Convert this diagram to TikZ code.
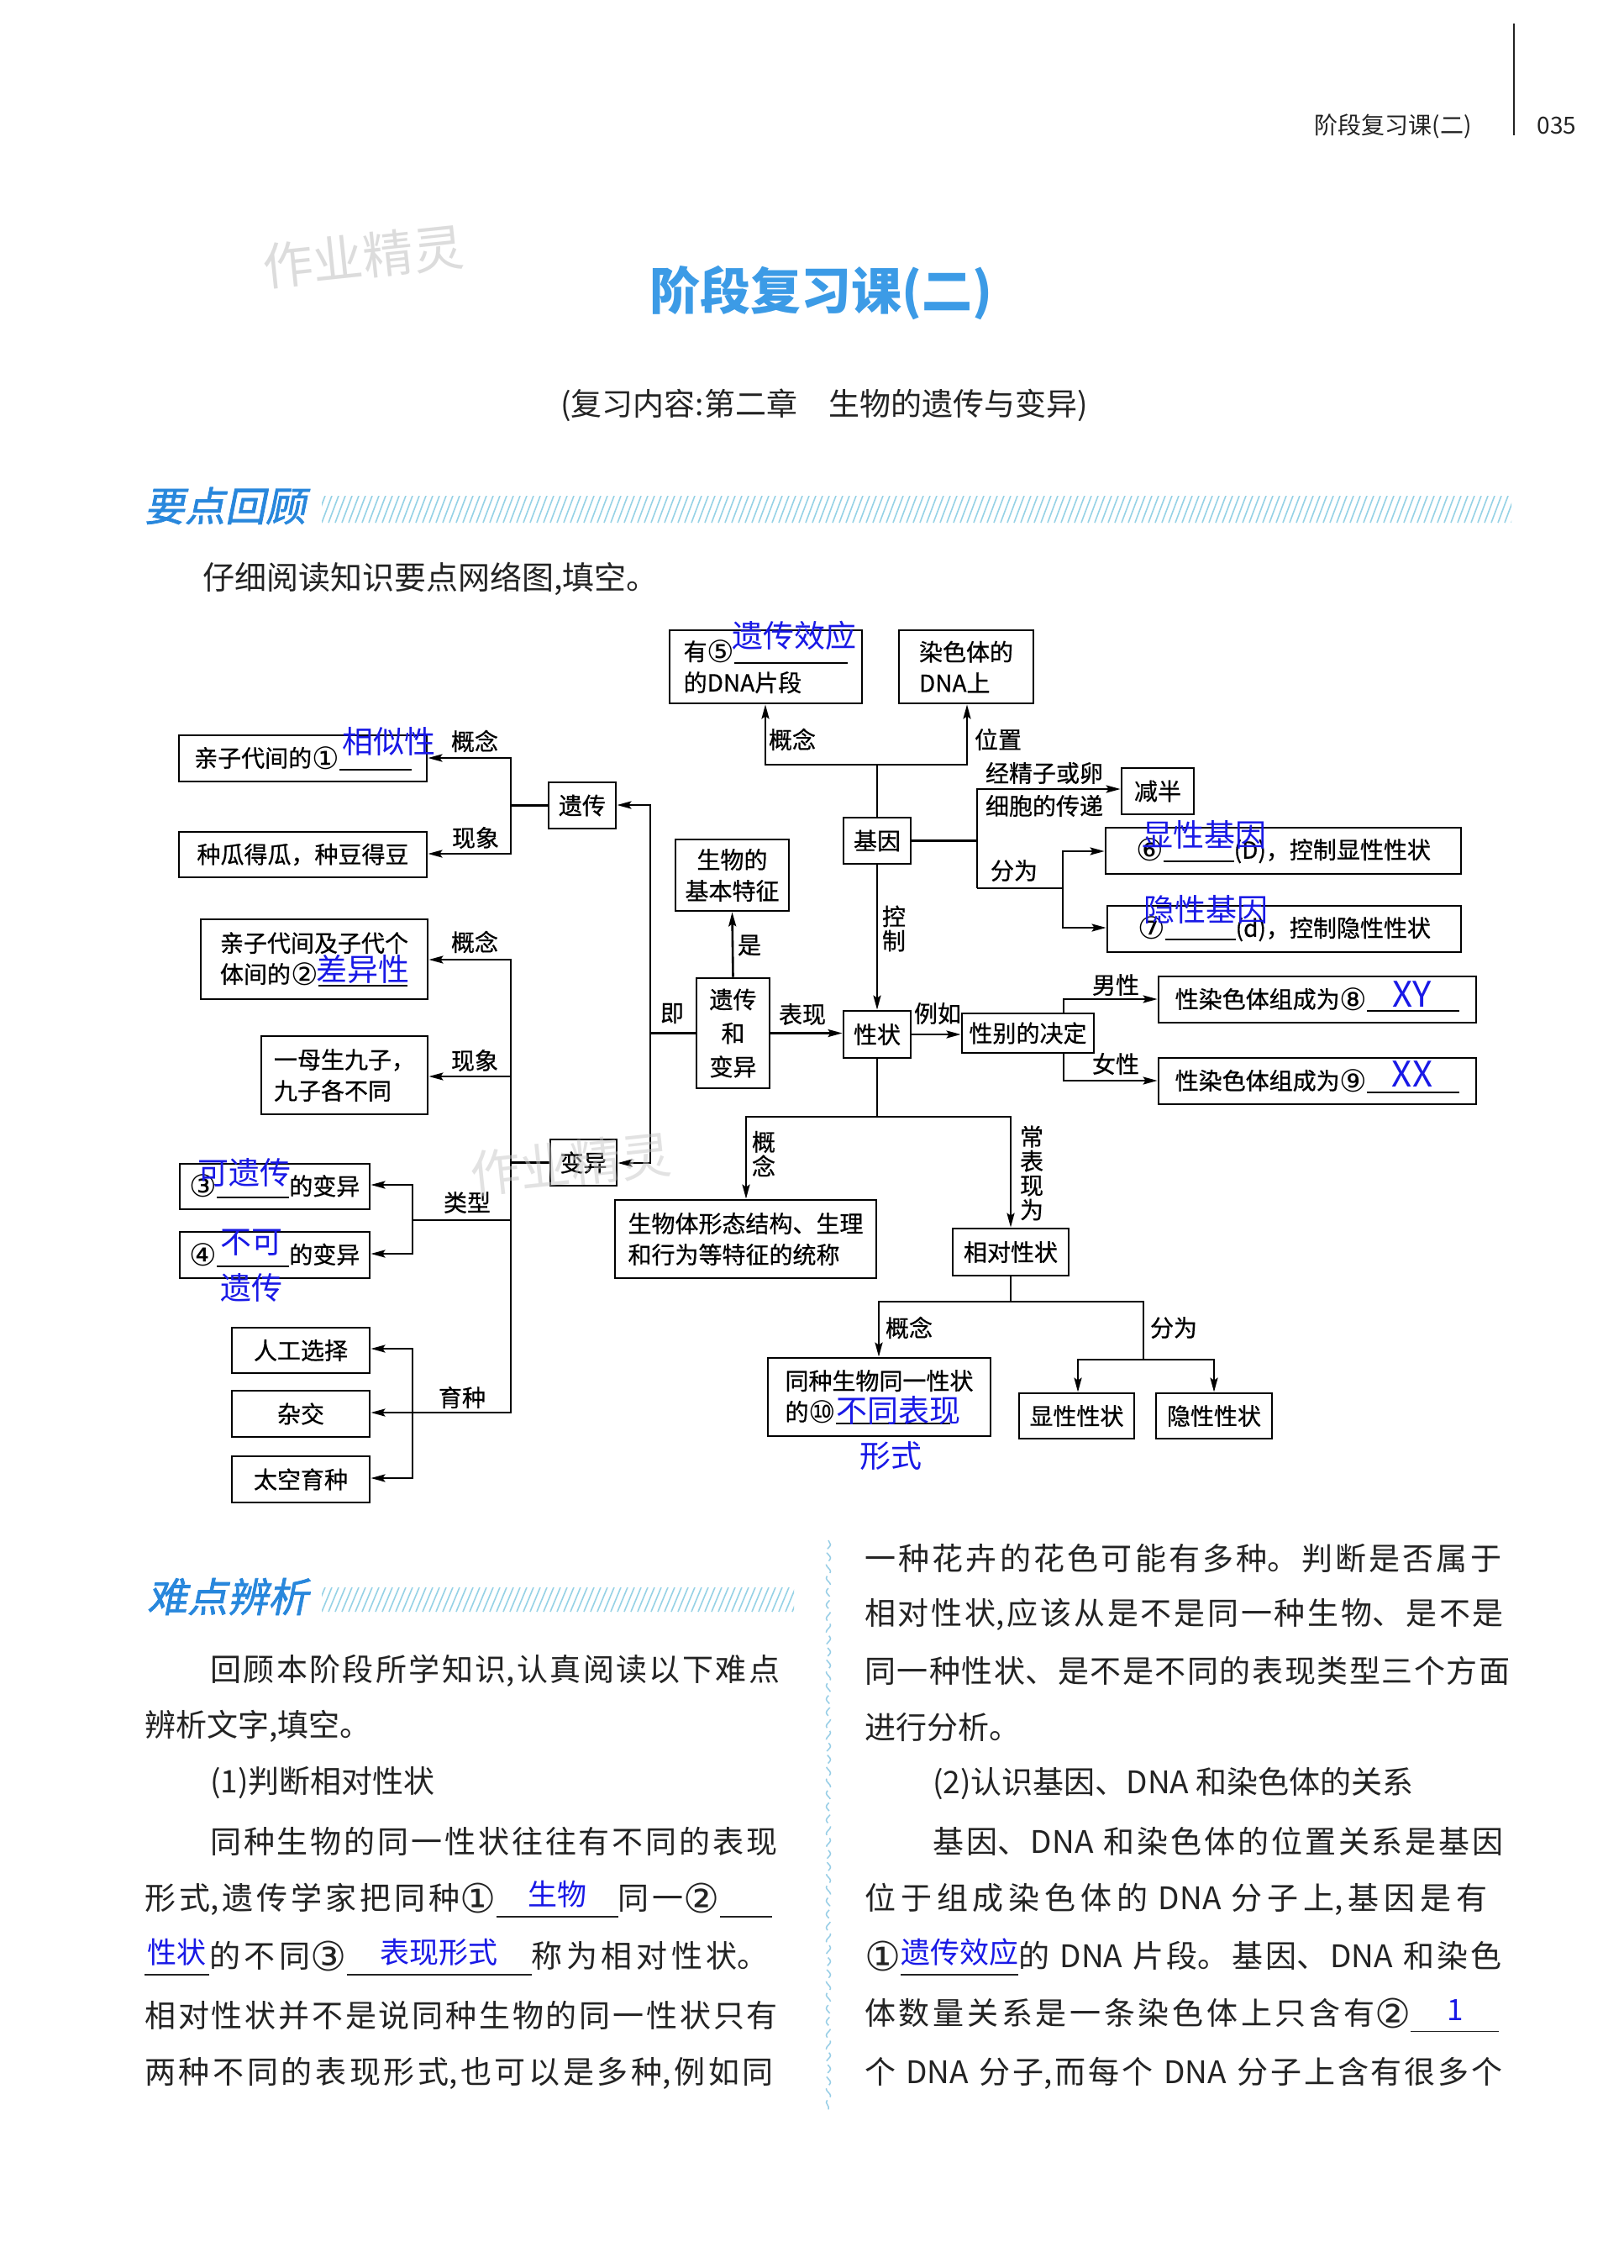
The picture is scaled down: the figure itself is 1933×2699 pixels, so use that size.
\documentclass[tikz,border=0pt]{standalone}
\usepackage{fontspec}
\usepackage{graphicx}
\setmainfont{Noto Sans CJK SC}
\newfontfamily\dfont{Noto Sans CJK SC}[FakeBold=0.6]
\newfontfamily\hfont{Noto Sans CJK SC}[FakeSlant=0.2,FakeBold=1.5]
\newfontfamily\cirfont{DejaVu Sans}
\usetikzlibrary{arrows.meta,decorations.pathmorphing}
\definecolor{ansblue}{RGB}{25,25,230}
\definecolor{ttlblue}{RGB}{60,155,230}
\definecolor{secblue}{RGB}{40,135,220}
\definecolor{stripecol}{RGB}{150,210,230}
\definecolor{ink}{RGB}{35,35,35}
\definecolor{divcol}{RGB}{150,205,230}
\XeTeXlinebreaklocale "zh"
\XeTeXlinebreakskip=0pt plus 12pt
\tolerance=10000
\newcommand\ci[1]{\raisebox{-0.1em}{\scalebox{1.3}{\cirfont #1}}}
\newcommand\blk[1]{\rule[-4pt]{#1pt}{1.6pt}}
\newcommand\ansb[2]{\makebox[0pt][l]{\rule[-9pt]{#1pt}{1.4pt}}\makebox[#1pt]{\raisebox{5pt}{\fontsize{35}{35}\selectfont\color{ansblue}#2}}}
\tikzset{
  box/.style={draw=black, line width=2.8pt, inner sep=0pt, font=\dfont\fontsize{28}{37}\selectfont, align=left},
  lbl/.style={inner sep=0pt, font=\dfont\fontsize{28}{34}\selectfont},
  vlbl/.style={inner sep=0pt, align=center, font=\dfont\fontsize{28}{29}\selectfont},
  con/.style={line width=2.6pt},
  arr/.style={con, -{Stealth[length=17pt,width=9pt,inset=3pt]}},
  ans/.style={inner sep=0pt, text=ansblue, font=\fontsize{37}{40}\selectfont},
  bodyl/.style={anchor=west, inner sep=0pt, text=ink, font=\fontsize{37}{40}\selectfont},
  wmark/.style={inner sep=0pt, text=gray!45, opacity=0.6, font=\fontsize{60}{60}\selectfont},
}
\begin{document}
\begin{tikzpicture}[x=1pt,y=-1pt]
\useasboundingbox (0,0) rectangle (1933,2699);
\fill[white] (0,0) rectangle (1933,2699);

% ---------- page header ----------
\draw[line width=2.4pt, ink] (1802,28) -- (1802,161);
\node[anchor=east, inner sep=0pt, text=ink, font=\fontsize{28}{28}\selectfont] (hdr) at (1752,150) {阶段复习课(二)};
\node[inner sep=0pt, text=ink, font=\fontsize{28}{28}\selectfont] (pgno) at (1853,150) {035};

% ---------- title ----------
\node[wmark, rotate=6] (wm1) at (432,305) {作业精灵};
\node[inner sep=0pt, text=ttlblue, font=\fontsize{60}{60}\selectfont\bfseries] (title) at (977,349) {阶段复习课(二)};
\node[inner sep=0pt, text=ink, font=\fontsize{37}{37}\selectfont] (subtitle) at (981,482) {(复习内容:第二章\quad 生物的遗传与变异)};

% ---------- section 1 header ----------
\node[inner sep=0pt, text=secblue, font=\hfont\fontsize{48}{48}\selectfont] (sec1) at (268,602) {要点回顾};
\begin{scope}
\clip (383,590) rectangle (1799,622);
\foreach \x in {375,383,...,1800} \draw[stripecol, line width=1.6pt] (\x,622) -- (\x+12,590);
\end{scope}
\node[bodyl, font=\fontsize{38}{40}\selectfont] (intro) at (241,689) {仔细阅读知识要点网络图,填空。};

% ---------- diagram boxes ----------
\node[box, minimum width=229pt, minimum height=87pt] (n5) at (911.5,793.5) {有\ci{⑤}\blk{135}\\的DNA片段};
\node[box, minimum width=160pt, minimum height=87pt] (nchr) at (1150,793.5) {染色体的\\DNA上};
\node[box, minimum width=80pt, minimum height=55pt] (ngene) at (1044,1000.5) {基因};
\node[box, minimum width=86pt, minimum height=55pt] (njian) at (1378,941.5) {减半};
\node[box, minimum width=423pt, minimum height=55pt] (n6) at (1527.5,1012.5) {\ci{⑥}\blk{84}(D)，控制显性性状};
\node[box, minimum width=421pt, minimum height=55pt] (n7) at (1528.5,1105.5) {\ci{⑦}\blk{84}(d)，控制隐性性状};
\node[box, minimum width=80pt, minimum height=56pt] (ntrait) at (1044,1231) {性状};
\node[box, minimum width=157pt, minimum height=47pt] (nsex) at (1223.5,1229.5) {性别的决定};
\node[box, minimum width=378pt, minimum height=55pt] (n8) at (1568,1189.5) {性染色体组成为\ci{⑧}\blk{110}};
\node[box, minimum width=378pt, minimum height=55pt] (n9) at (1568,1286.5) {性染色体组成为\ci{⑨}\blk{110}};
\node[box, minimum width=87pt, minimum height=131pt, align=center, font=\dfont\fontsize{28}{40}\selectfont] (nyb) at (872.5,1229.5) {遗传\\和\\变异};
\node[box, minimum width=135pt, minimum height=85pt, align=center] (nbasic) at (871.5,1041.5) {生物的\\基本特征};
\node[box, minimum width=80pt, minimum height=55pt] (nyc) at (693,958.5) {遗传};
\node[box, minimum width=79pt, minimum height=55pt] (nby) at (694.5,1383.5) {变异};
\node[box, minimum width=295pt, minimum height=55pt] (n1) at (360.5,902.5) {亲子代间的\ci{①}\blk{86}};
\node[box, minimum width=295pt, minimum height=54pt] (ngua) at (360.5,1017) {种瓜得瓜，种豆得豆};
\node[box, minimum width=270pt, minimum height=95pt] (n2) at (374,1141.5) {亲子代间及子代个\\体间的\ci{②}\blk{106}};
\node[box, minimum width=198pt, minimum height=93pt] (nmu) at (410,1279.5) {一母生九子，\\九子各不同};
\node[box, minimum width=226pt, minimum height=54pt] (n3) at (327,1412) {\ci{③}\blk{86}的变异};
\node[box, minimum width=226pt, minimum height=55pt] (n4) at (327,1493.5) {\ci{④}\blk{86}的变异};
\node[box, minimum width=164pt, minimum height=54pt] (nrg) at (358,1607) {人工选择};
\node[box, minimum width=164pt, minimum height=55pt] (nzj) at (358,1682.5) {杂交};
\node[box, minimum width=164pt, minimum height=55pt] (nty) at (358,1760.5) {太空育种};
\node[box, minimum width=311pt, minimum height=93pt] (ndef) at (887.5,1474.5) {生物体形态结构、生理\\和行为等特征的统称};
\node[box, minimum width=138pt, minimum height=56pt] (nrel) at (1203,1490) {相对性状};
\node[box, minimum width=265pt, minimum height=93pt] (n10) at (1046.5,1662.5) {同种生物同一性状\\的\ci{⑩}\blk{136}};
\node[box, minimum width=137pt, minimum height=54pt] (ndom) at (1281.5,1685) {显性性状};
\node[box, minimum width=138pt, minimum height=54pt] (nrec) at (1445,1685) {隐性性状};

% ---------- connectors ----------
\coordinate (t1) at (911,910);
\coordinate (t2) at (1151,910);
\draw[arr] (ngene.north) |- (t1) -- (t1 |- n5.south);
\draw[arr] (ngene.north |- t2) -- (t2) -- (t2 |- nchr.south);

\coordinate (g1) at (1163,939);
\coordinate (g2) at (1163,1057);
\coordinate (g3) at (1265,1013);
\coordinate (g4) at (1265,1104);
\draw[con] (ngene.east) -- (ngene.east -| g1);
\draw[arr] (g2) -- (g1) -- (g1 -| njian.west);
\draw[con] (g2) -- (g2 -| g3);
\draw[arr] (g2 -| g3) -- (g3) -- (g3 -| n6.west);
\draw[arr] (g2 -| g3) -- (g4) -- (g4 -| n7.west);

\draw[arr] (ngene.south) -- (ntrait.north);
\draw[arr] (nyb.east) -- (nyb.east -| ntrait.west);
\draw[arr] (ntrait.east) -- (ntrait.east -| nsex.west);

\coordinate (s1) at (1266,1189);
\coordinate (s2) at (1266,1286);
\draw[arr] (s1 |- nsex.north) -- (s1) -- (s1 -| n8.west);
\draw[arr] (s2 |- nsex.south) -- (s2) -- (s2 -| n9.west);

\draw[arr] (nyb.north) -- (nbasic.south);

\coordinate (v1) at (774,958);
\coordinate (v2) at (774,1384);
\draw[arr] (v2 |- nyb.west) -- (v1) -- (v1 -| nyc.east);
\draw[arr] (v2 |- nyb.west) -- (v2) -- (v2 -| nby.east);
\draw[con] (nyb.west) -- (nyb.west -| v1);

\coordinate (a1) at (608,902);
\coordinate (a2) at (608,1016);
\draw[con] (nyc.west) -- (nyc.west -| a1);
\draw[arr] (nyc.west -| a1) -- (a1) -- (a1 -| n1.east);
\draw[arr] (nyc.west -| a1) -- (a2) -- (a2 -| ngua.east);

\coordinate (b1) at (608,1142);
\coordinate (b2) at (608,1281);
\coordinate (b3) at (608,1452);
\coordinate (b4) at (608,1681);
\draw[con] (nby.west) -- (nby.west -| b1);
\draw[arr] (nby.west -| b1) -- (b1) -- (b1 -| n2.east);
\draw[arr] (b2) -- (b2 -| nmu.east);
\draw[arr] (nby.west -| b1) -- (b4) -- (b4 -| nzj.east);
\coordinate (c1) at (491,1410);
\coordinate (c2) at (491,1492);
\draw[con] (b3) -- (b3 -| c1);
\draw[arr] (b3 -| c1) -- (c1) -- (c1 -| n3.east);
\draw[arr] (b3 -| c1) -- (c2) -- (c2 -| n4.east);
\coordinate (d1) at (491,1605);
\coordinate (d2) at (491,1759);
\draw[arr] (b4 -| d1) -- (d1) -- (d1 -| nrg.east);
\draw[arr] (b4 -| d1) -- (d2) -- (d2 -| nty.east);

\coordinate (e1) at (888,1329);
\coordinate (e2) at (1203,1329);
\draw[con] (ntrait.south) -- (ntrait.south |- e1);
\draw[arr] (ntrait.south |- e1) -- (e1) -- (e1 |- ndef.north);
\draw[arr] (ntrait.south |- e1) -- (e2) -- (e2 |- nrel.north);

\coordinate (f1) at (1046,1549);
\coordinate (f2) at (1361,1549);
\coordinate (h1) at (1283,1618);
\coordinate (h2) at (1445,1618);
\draw[con] (nrel.south) -- (nrel.south |- f1);
\draw[arr] (nrel.south |- f1) -- (f1) -- (f1 |- n10.north);
\draw[con] (nrel.south |- f1) -- (f2) -- (f2 |- h1);
\draw[arr] (f2 |- h1) -- (h1) -- (h1 |- ndom.north);
\draw[arr] (f2 |- h1) -- (h2) -- (h2 |- nrec.north);

% ---------- connector labels ----------
\node[lbl] (lgn1) at (943,880) {概念};
\node[lbl] (lwz) at (1188,880) {位置};
\node[lbl] (lcd1) at (1243,920) {经精子或卵};
\node[lbl] (lcd2) at (1243,959) {细胞的传递};
\node[lbl] (lfw1) at (1207,1036) {分为};
\node[vlbl] (lkz) at (1064,1105) {控\\制};
\node[lbl] (lbx) at (955,1207) {表现};
\node[lbl] (lrr) at (1116,1206) {例如};
\node[lbl] (lnan) at (1328,1172) {男性};
\node[lbl] (lnv) at (1328,1266) {女性};
\node[lbl] (lshi) at (892,1125) {是};
\node[lbl] (lji) at (800,1206) {即};
\node[lbl] (lgn2) at (565,882) {概念};
\node[lbl] (lxx1) at (566,997) {现象};
\node[lbl] (lgn3) at (565,1121) {概念};
\node[lbl] (lxx2) at (565,1262) {现象};
\node[lbl] (llx) at (556,1431) {类型};
\node[lbl] (lyz) at (550,1663) {育种};
\node[vlbl] (lgn4) at (909,1373) {概\\念};
\node[vlbl] (lcb) at (1228,1396) {常\\表\\现\\为};
\node[lbl] (lgn5) at (1082,1580) {概念};
\node[lbl] (lfw2) at (1397,1580) {分为};

% ---------- blue answers ----------
\node[ans] (a5) at (945,756) {遗传效应};
\node[ans] (aa1) at (463,882) {相似性};
\node[ans] (aa2) at (432,1153) {差异性};
\node[ans] (aa6) at (1433,993) {显性基因};
\node[ans] (aa7) at (1435,1082) {隐性基因};
\node[ans, font=\fontsize{42}{42}\selectfont] (aa8) at (1681,1183) {XY};
\node[ans, font=\fontsize{42}{42}\selectfont] (aa9) at (1681,1278) {XX};
\node[ans] (aa3) at (291,1395) {可遗传};
\node[ans] (aa4a) at (299,1479) {不可};
\node[ans] (aa4b) at (299,1532) {遗传};
\node[ans] (aa10a) at (1069,1678) {不同表现};
\node[ans] (aa10b) at (1060,1733) {形式};

\node[wmark, rotate=6, opacity=0.5] (wm2) at (679,1385) {作业精灵};

% ---------- section 2 ----------
\node[inner sep=0pt, text=secblue, font=\hfont\fontsize{48}{48}\selectfont] (sec2) at (271,1900) {难点辨析};
\begin{scope}
\clip (383,1889) rectangle (945,1918);
\foreach \x in {375,383,...,950} \draw[stripecol, line width=1.6pt] (\x,1918) -- (\x+12,1889);
\end{scope}
\draw[divcol, line width=1.5pt, dash pattern=on 12pt off 5pt, decorate, decoration={snake, amplitude=2.5pt, segment length=16pt}] (986,1833) -- (986,2513);

% left column
\node[bodyl, text width=693pt] (l1) at (250,1988) {\parfillskip=0pt 回顾本阶段所学知识,认真阅读以下难点\par};
\node[bodyl] (l2) at (172,2054) {辨析文字,填空。};
\node[bodyl] (l3) at (250,2122) {(1)判断相对性状};
\node[bodyl, text width=693pt] (l4) at (250,2191) {\parfillskip=0pt 同种生物的同一性状往往有不同的表现\par};
\node[bodyl, text width=771pt] (l5) at (172,2260) {\parfillskip=0pt 形式,遗传学家把同种\ci{①}\ansb{145}{生物}同一\ci{②}\ansb{62}{}\par};
\node[bodyl, text width=771pt] (l6) at (172,2329) {\parfillskip=0pt \ansb{77}{性状}的不同\ci{③}\ansb{220}{表现形式}称为相对性状。\par};
\node[bodyl, text width=771pt] (l7) at (172,2398) {\parfillskip=0pt 相对性状并不是说同种生物的同一性状只有\par};
\node[bodyl, text width=771pt] (l8) at (172,2467) {\parfillskip=0pt 两种不同的表现形式,也可以是多种,例如同\par};

% right column
\node[bodyl, text width=778pt] (r1) at (1029,1854) {\parfillskip=0pt 一种花卉的花色可能有多种。判断是否属于\par};
\node[bodyl, text width=778pt] (r2) at (1029,1921) {\parfillskip=0pt 相对性状,应该从是不是同一种生物、是不是\par};
\node[bodyl, text width=778pt] (r3) at (1029,1988) {\parfillskip=0pt 同一种性状、是不是不同的表现类型三个方面\par};
\node[bodyl] (r4) at (1029,2055) {进行分析。};
\node[bodyl] (r5) at (1110,2122) {(2)认识基因、DNA 和染色体的关系};
\node[bodyl, text width=697pt] (r6) at (1110,2191) {\parfillskip=0pt 基因、DNA 和染色体的位置关系是基因\par};
\node[bodyl, text width=778pt] (r7) at (1029,2260) {\parfillskip=0pt 位于组成染色体的 DNA 分子上,基因是有\par};
\node[bodyl, text width=778pt] (r8) at (1029,2329) {\parfillskip=0pt \ci{①}\ansb{140}{遗传效应}的 DNA 片段。基因、DNA 和染色\par};
\node[bodyl, text width=778pt] (r9) at (1029,2398) {\parfillskip=0pt 体数量关系是一条染色体上只含有\ci{②}\ansb{105}{1}\par};
\node[bodyl, text width=778pt] (r10) at (1029,2467) {\parfillskip=0pt 个 DNA 分子,而每个 DNA 分子上含有很多个\par};
\end{tikzpicture}
\end{document}
